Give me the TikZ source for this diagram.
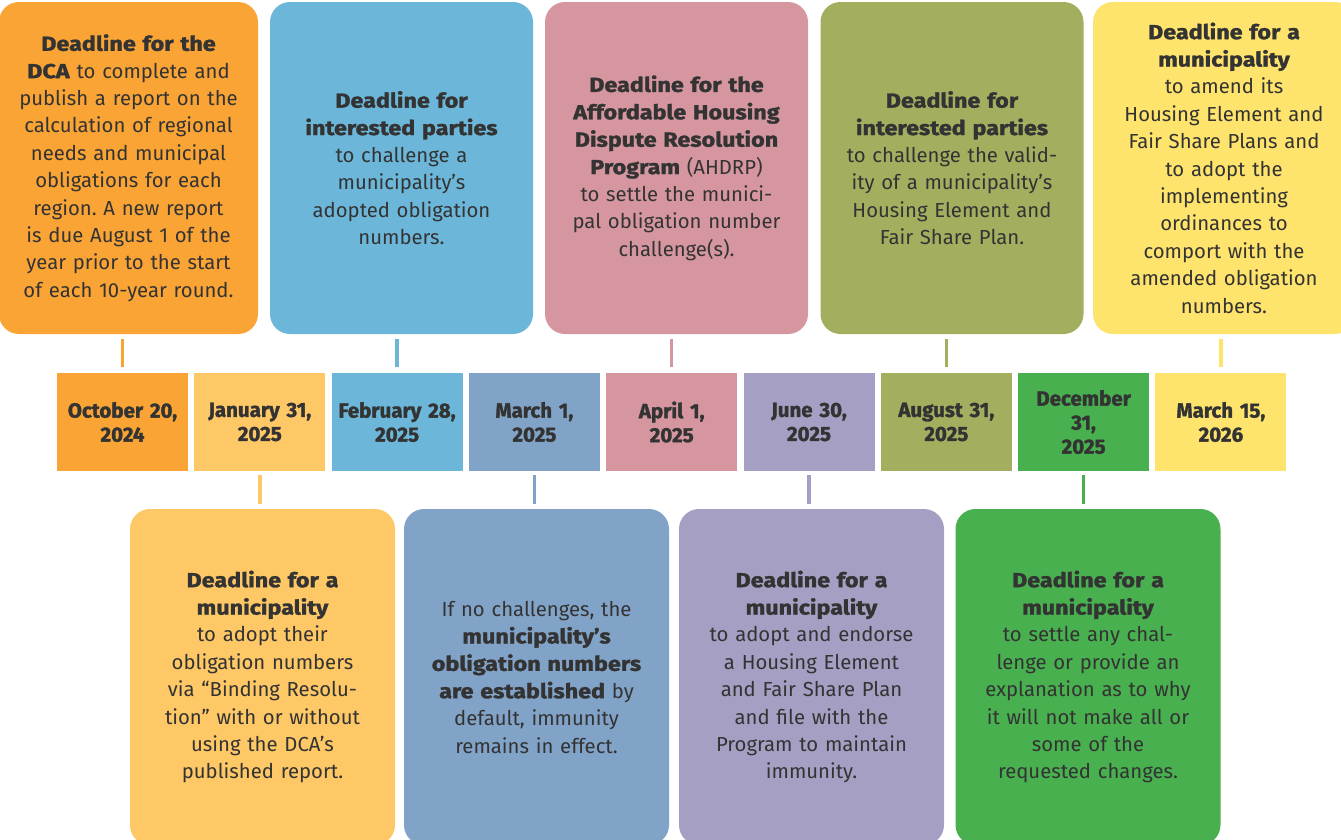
\documentclass[tikz,border=0pt]{standalone}
\usepackage{fontspec}
\setmainfont{Fira Sans}[BoldFeatures={FakeBold=1.5,FakeStretch=1.15}]
\newfontfamily\datefont{Fira Sans}[BoldFeatures={FakeBold=1.5}]
\definecolor{cOrange}{HTML}{F9A435}
\definecolor{cLtOrange}{HTML}{FDC865}
\definecolor{cBlue}{HTML}{6CB7D9}
\definecolor{cSteel}{HTML}{82A3C8}
\definecolor{cPink}{HTML}{D5969F}
\definecolor{cLav}{HTML}{A59FC3}
\definecolor{cOlive}{HTML}{A4AE5F}
\definecolor{cGreen}{HTML}{48B04F}
\definecolor{cYellow}{HTML}{FEE46C}
\definecolor{txt}{HTML}{333333}
\frenchspacing
\begin{document}
\begin{tikzpicture}[x=1pt,y=-1pt,
  infobox/.style={fill=#1, rounded corners=20pt, inner sep=0pt,
    minimum width=263pt, minimum height=332pt, text width=258pt,
    align=center, text=txt, font=\fontsize{20.3}{27.4}\selectfont},
  datebox/.style={fill=#1, inner sep=0pt, minimum width=131pt,
    minimum height=98pt, text width=130pt, align=center, text=txt,
    font=\datefont\bfseries\fontsize{20.5}{24}\selectfont},
  conn/.style={draw=#1, line width=3.5pt}]
\useasboundingbox (0,0) rectangle (1341,839);
\clip (0,0) rectangle (1341,839);

% top boxes
\node[infobox=cOrange, minimum width=259pt] (t1) at (128.5,168)
  {\textbf{Deadline for the}\\\textbf{DCA} to complete and\\publish a report on the\\calculation of regional\\needs and municipal\\obligations for each\\region. A new report\\is due August 1 of the\\year prior to the start\\of each 10-year round.};
\node[infobox=cBlue] (t2) at (401.5,168)
  {\textbf{Deadline for}\\\textbf{interested parties}\\to challenge a\\municipality’s\\adopted obligation\\numbers.};
\node[infobox=cPink] (t3) at (676.5,168)
  {\textbf{Deadline for the}\\\textbf{Affordable Housing}\\\textbf{Dispute Resolution}\\\textbf{Program} (AHDRP)\\to settle the munici-\\pal obligation number\\challenge(s).};
\node[infobox=cOlive] (t4) at (952,168)
  {\textbf{Deadline for}\\\textbf{interested parties}\\to challenge the valid-\\ity of a municipality’s\\Housing Element and\\Fair Share Plan.};
\node[infobox=cYellow, minimum width=262pt] (t5) at (1224,168)
  {\textbf{Deadline for a}\\\textbf{municipality}\\to amend its\\Housing Element and\\Fair Share Plans and\\to adopt the\\implementing\\ordinances to\\comport with the\\amended obligation\\numbers.};

% date cells
\node[datebox=cOrange]   (d1) at (122.5,422) {October 20,\\2024};
\node[datebox=cLtOrange] (d2) at (259.8,422) {January 31,\\2025};
\node[datebox=cBlue]     (d3) at (397.1,422) {February 28,\\2025};
\node[datebox=cSteel]    (d4) at (534.4,422) {March 1,\\2025};
\node[datebox=cPink]     (d5) at (671.7,422) {April 1,\\2025};
\node[datebox=cLav]      (d6) at (809.0,422) {June 30,\\2025};
\node[datebox=cOlive]    (d7) at (946.3,422) {August 31,\\2025};
\node[datebox=cGreen]    (d8) at (1083.6,422) {December\\31,\\2025};
\node[datebox=cYellow]   (d9) at (1220.9,422) {March 15,\\2026};

% bottom boxes
\node[infobox=cLtOrange, minimum width=265pt, minimum height=336pt] (b1) at (262.5,677)
  {\textbf{Deadline for a}\\\textbf{municipality}\\to adopt their\\obligation numbers\\via “Binding Resolu-\\tion” with or without\\using the DCA’s\\published report.};
\node[infobox=cSteel, minimum width=265pt, minimum height=336pt] (b2) at (536.5,677)
  {If no challenges, the\\\textbf{municipality’s}\\\textbf{obligation numbers}\\\textbf{are established} by\\default, immunity\\remains in effect.};
\node[infobox=cLav, minimum width=265pt, minimum height=336pt] (b3) at (811.5,677)
  {\textbf{Deadline for a}\\\textbf{municipality}\\to adopt and endorse\\a Housing Element\\and Fair Share Plan\\and file with the\\Program to maintain\\immunity.};
\node[infobox=cGreen, minimum width=265pt, minimum height=336pt] (b4) at (1088,677)
  {\textbf{Deadline for a}\\\textbf{municipality}\\to settle any chal-\\lenge or provide an\\explanation as to why\\it will not make all or\\some of the\\requested changes.};

% connectors
\draw[conn=cOrange, shorten <=5pt, shorten >=6pt] (d1.north |- t1.south) -- (d1.north);
\draw[conn=cBlue,   shorten <=5pt, shorten >=6pt] (d3.north |- t2.south) -- (d3.north);
\draw[conn=cPink,   shorten <=5pt, shorten >=6pt] (d5.north |- t3.south) -- (d5.north);
\draw[conn=cOlive,  shorten <=5pt, shorten >=6pt] (d7.north |- t4.south) -- (d7.north);
\draw[conn=cYellow, shorten <=5pt, shorten >=6pt] (d9.north |- t5.south) -- (d9.north);
\draw[conn=cLtOrange, shorten <=4pt, shorten >=5pt] (d2.south) -- (d2.south |- b1.north);
\draw[conn=cSteel,    shorten <=4pt, shorten >=5pt] (d4.south) -- (d4.south |- b2.north);
\draw[conn=cLav,      shorten <=4pt, shorten >=5pt] (d6.south) -- (d6.south |- b3.north);
\draw[conn=cGreen,    shorten <=4pt, shorten >=5pt] (d8.south) -- (d8.south |- b4.north);
\end{tikzpicture}
\end{document}
